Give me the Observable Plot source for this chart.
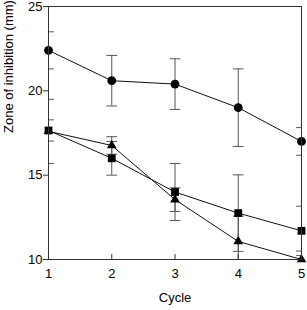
<!DOCTYPE html>
<html>
<head>
<meta charset="utf-8">
<script src="https://cdn.jsdelivr.net/npm/d3@7"></script>
<script src="https://cdn.jsdelivr.net/npm/@observablehq/plot@0.6"></script>
<style>
  html, body { margin: 0; padding: 0; background: #fff; }
</style>
</head>
<body>
<div id="chart"></div>
<script>
const cycles = [1, 2, 3, 4, 5];
const seriesNames = ["circle", "square", "triangle"];
const circleMean = [22.4, 20.6, 20.4, 19.0, 17.0];
const circleErr  = [1.1, 1.5, 1.5, 2.3, 0.82];
const squareMean = [17.65, 16.0, 14.0, 12.75, 11.7];
const squareErr  = [0.63, 1.0, 1.69, 2.27, 1.46];
const triangleMean = [17.6, 16.76, 13.55, 11.07, 10.0];
const triangleErr  = [1.9, 0.52, 0.7, 1.5, 0.5];
const yTicks = [10, 15, 20, 25];
const xTicks = [1, 2, 3, 4, 5];

const means = {circle: circleMean, square: squareMean, triangle: triangleMean};
const errs = {circle: circleErr, square: squareErr, triangle: triangleErr};
const data = seriesNames.flatMap(s => cycles.map((c, i) => ({
  series: s, cycle: c, mean: means[s][i], err: errs[s][i],
  lo: means[s][i] - errs[s][i], hi: means[s][i] + errs[s][i]
})));
const of = s => data.filter(d => d.series === s);

const capShape = {draw(ctx, l) { ctx.moveTo(0, 0); ctx.lineTo(0, -l); }};
const errColor = "#555";

const chart = Plot.plot({
  width: 307,
  height: 310,
  marginLeft: 48,
  marginRight: 6,
  marginTop: 6,
  marginBottom: 51,
  style: {fontFamily: "'Liberation Sans', Arial, sans-serif", fontSize: "13px", color: "#000", background: "#fff"},
  x: {domain: [1, 5]},
  y: {domain: [10, 25]},
  symbol: {domain: seriesNames, range: ["circle", "square", "triangle"]},
  marks: [
    Plot.ruleX(data, {x: "cycle", y1: "lo", y2: "hi", stroke: errColor, strokeWidth: 1, clip: true}),
    Plot.vector(data, {x: "cycle", y: "lo", length: 10, rotate: 90, anchor: "middle", shape: capShape, stroke: errColor, strokeWidth: 1, clip: true}),
    Plot.vector(data, {x: "cycle", y: "hi", length: 10, rotate: 90, anchor: "middle", shape: capShape, stroke: errColor, strokeWidth: 1, clip: true}),
    Plot.line(data, {x: "cycle", y: "mean", z: "series", stroke: "#111", strokeWidth: 1}),
    Plot.dot(of("triangle"), {x: "cycle", y: "mean", symbol: "series", r: 3.6, fill: "#000", stroke: "none"}),
    Plot.dot(of("square"), {x: "cycle", y: "mean", symbol: "series", r: 4.4, fill: "#000", stroke: "none"}),
    Plot.dot(of("circle"), {x: "cycle", y: "mean", symbol: "series", r: 4.4, fill: "#000", stroke: "none"}),
    Plot.tickX(xTicks, {x: d => d, insetTop: 248, stroke: "#333", strokeWidth: 1}),
    Plot.frame({stroke: "#333", strokeWidth: 1}),
    Plot.axisY(yTicks, {tickSize: 5, tickPadding: 1, stroke: "#333", fill: "#000", label: null}),
    Plot.axisX(xTicks, {tickSize: 0, tickPadding: 9, fill: "#000", label: null}),
    Plot.text(["Zone of inhibition (mm)"], {frameAnchor: "left", rotate: -90, dx: -40, fill: "#000"}),
    Plot.text(["Cycle"], {frameAnchor: "bottom", dy: 42, fill: "#000"})
  ]
});
document.getElementById("chart").appendChild(chart);
</script>
</body>
</html>
